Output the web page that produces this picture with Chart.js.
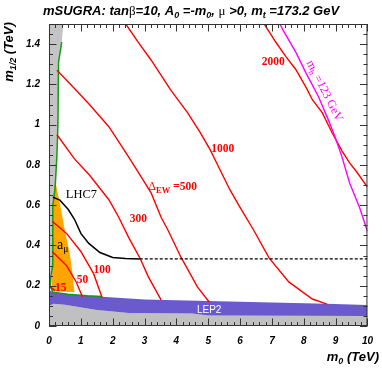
<!DOCTYPE html>
<html><head><meta charset="utf-8">
<script src="https://cdn.jsdelivr.net/npm/chart.js@4/dist/chart.umd.min.js"></script>
<style>html,body{margin:0;padding:0;background:#fff;overflow:hidden}canvas{display:block}</style>
</head><body>
<canvas id="c" width="382" height="368"></canvas>
<script>
// ---- data (m0 in TeV, m1/2 in TeV) ----
const xTickValues = [0,1,2,3,4,5,6,7,8,9,10];
const yTickValues = [0,0.2,0.4,0.6,0.8,1,1.2,1.4];
const yTickLabels = ['0','0.2','0.4','0.6','0.8','1','1.2','1.4'];

const ew15   = [[0.03,0.194],[0.19,0.176]];
const ew50   = [[0.1,0.37],[0.55,0.30],[0.85,0.22],[1.05,0.145]];
const ew100  = [[0.1,0.52],[0.55,0.46],[1.0,0.37],[1.4,0.26],[1.67,0.14]];
const ew300  = [[0.25,0.95],[0.8,0.83],[1.27,0.75],[1.88,0.627],[2.19,0.54],[2.5,0.44],[2.87,0.333],[3.12,0.244],[3.52,0.13]];
const ew500  = [[0.25,1.27],[0.8,1.18],[1.27,1.1],[1.88,0.99],[2.5,0.84],[2.9,0.74],[3.21,0.66],[3.52,0.54],[3.73,0.478],[4.14,0.343],[4.66,0.194],[5.03,0.119]];
const ew1000 = [[2.41,1.5],[2.8,1.41],[3.21,1.32],[3.83,1.17],[4.35,1.06],[4.75,0.96],[5.06,0.876],[5.37,0.776],[5.68,0.677],[5.99,0.592],[6.42,0.478],[6.91,0.338],[7.53,0.219],[8.27,0.134],[8.73,0.109]];
const ew2000 = [[6.76,1.5],[7.13,1.408],[7.44,1.338],[7.75,1.274],[8.06,1.189],[8.27,1.124],[8.58,1.06],[8.89,0.96],[9.2,0.87],[9.44,0.81],[9.66,0.766],[10,0.69]];
const mh123  = [[7.25,1.5],[7.35,1.47],[7.75,1.36],[8.06,1.26],[8.46,1.14],[8.77,1.025],[8.98,0.94],[9.2,0.84],[9.44,0.71],[9.75,0.59],[10,0.47]];
const lhc7   = [[0.12,0.64],[0.34,0.625],[0.6,0.58],[0.8,0.53],[1.0,0.46],[1.25,0.41],[1.6,0.365],[2.0,0.34],[2.4,0.335],[2.85,0.333]];
const lhc7Ext = [[2.85,0.333],[10,0.333]];
const amuRegion = [[0.12,0.62],[0.17,0.70],[0.21,0.71],[0.26,0.67],[0.34,0.61],[0.49,0.48],[0.65,0.36],[0.74,0.26],[0.80,0.168],[0.08,0.172],[0.1,0.3]];
const excludedLeft = [[0,0.17],[0.05,0.19],[0.08,0.25],[0.12,0.3],[0.12,0.6],[0.19,0.68],[0.25,0.85],[0.28,1.0],[0.3,1.31],[0.4,1.41],[0.45,1.5],[0,1.5]];
const greenEdge = [[0.4,1.41],[0.3,1.31],[0.28,1.0],[0.25,0.85],[0.19,0.68],[0.12,0.6],[0.12,0.3],[0.06,0.25],[0.04,0.2],[0.12,0.168],[0.6,0.158],[1.2,0.15],[1.67,0.146]];
const lep2Top    = [[0,0.18],[0.12,0.168],[0.6,0.158],[1.67,0.145],[3.0,0.132],[5.0,0.124],[7.0,0.117],[8.7,0.11],[10,0.104]];
const lep2Bottom = [[0,0.10],[0.15,0.11],[0.5,0.105],[1.5,0.08],[2.5,0.065],[4.5,0.062],[5.0,0.052],[10,0.05]];

const pts = a => a.map(p => ({x:p[0], y:p[1]}));
const lep2Poly = lep2Top.concat(lep2Bottom.slice().reverse());

function lineDS(data, color, width, order, dash) {
  return {data: pts(data), showLine:true, borderColor:color, borderWidth:width, pointRadius:0,
          fill:false, tension:0, order:order, borderDash: dash || []};
}
function fillDS(data, color, order, mode) {
  return {data: pts(data), showLine:true, borderWidth:0, borderColor:'rgba(0,0,0,0)', backgroundColor:color,
          pointRadius:0, fill: mode || 'shape', tension:0, order:order};
}

const RED = '#ff0000';
const datasets = [
  fillDS(lep2Bottom, '#c0c0c0', 20, 'origin'),
  fillDS(excludedLeft, '#c4c4c4', 20),
  fillDS(lep2Poly, '#6a5acd', 19),
  fillDS(amuRegion, '#ffa500', 18),
  lineDS(greenEdge, '#129a12', 1.5, 10),
  lineDS(ew15, RED, 1.4, 5),
  lineDS(ew50, RED, 1.4, 5),
  lineDS(ew100, RED, 1.4, 5),
  lineDS(ew300, RED, 1.4, 5),
  lineDS(ew500, RED, 1.4, 5),
  lineDS(ew1000, RED, 1.4, 5),
  lineDS(ew2000, RED, 1.4, 5),
  lineDS(mh123, '#ff00ff', 1.4, 4),
  lineDS(lhc7, '#000000', 1.5, 3),
  lineDS(lhc7Ext, '#000000', 1.3, 3, [3,2])
];

function drawRich(ctx, parts, x, y, align) {
  let w = 0;
  parts.forEach(p => { ctx.font = p.f; p.w = ctx.measureText(p.t).width; w += p.w; });
  let cx = align === 'center' ? x - w/2 : (align === 'right' ? x - w : x);
  ctx.textAlign = 'left';
  parts.forEach(p => { ctx.font = p.f; ctx.fillText(p.t, cx, y + (p.dy || 0)); cx += p.w; });
}

const SANSBI = s => 'italic bold ' + s + 'px "Liberation Sans", Arial, sans-serif';
const SERIF  = s => s + 'px "Liberation Serif", "Times New Roman", serif';
const SERIFB = s => 'bold ' + s + 'px "Liberation Serif", "Times New Roman", serif';

const decor = {
  id: 'decor',
  afterDatasetsDraw(chart) {
    const ctx = chart.ctx, xs = chart.scales.x, ys = chart.scales.y, a = chart.chartArea;
    const X = v => xs.getPixelForValue(v), Y = v => ys.getPixelForValue(v);
    ctx.save();
    ctx.textBaseline = 'alphabetic';
    // contour labels
    ctx.fillStyle = RED;
    const redLabels = [['2000',7.04,1.294],['1000',5.46,0.866],['300',2.81,0.517],['100',1.67,0.264],['50',1.05,0.214],['15',0.37,0.174]];
    redLabels.forEach(l => drawRich(ctx, [{t:l[0], f:SERIFB(11.5)}], X(l[1]), Y(l[2]), 'center'));
    drawRich(ctx, [{t:'\u0394', f:SERIF(12)}, {t:'EW', f:SERIFB(8.5), dy:3}, {t:' =500', f:SERIFB(11.5)}], X(3.12), Y(0.677), 'left');
    // black labels
    ctx.fillStyle = '#000';
    drawRich(ctx, [{t:'LHC7', f:SERIF(12.5)}], X(1.02), Y(0.637), 'center');
    drawRich(ctx, [{t:'a', f:SERIF(14)}, {t:'\u03bc', f:SERIF(9.5), dy:3}], X(0.25), Y(0.383), 'left');
    // LEP2
    ctx.fillStyle = '#ffffff';
    drawRich(ctx, [{t:'LEP2', f:'10px "Liberation Sans", Arial, sans-serif'}], X(5.03), Y(0.065), 'center');
    // magenta rotated label
    ctx.save();
    ctx.translate(X(8.67), Y(1.169));
    ctx.rotate(63 * Math.PI / 180);
    ctx.fillStyle = '#ff00ff';
    drawRich(ctx, [{t:'m', f:SERIF(12)}, {t:'h', f:SERIF(8.5), dy:2.5}, {t:' =123 GeV', f:SERIF(12)}], 0, 4, 'center');
    ctx.restore();

    // frame and inward ticks on all four sides
    ctx.strokeStyle = '#333';
    ctx.lineWidth = 1;
    ctx.beginPath();
    for (let i = 0; i <= 50; i++) {
      const v = i * 0.2, px = Math.round(X(v)) + 0.5, L = (i % 5 === 0) ? 7.5 : 4;
      ctx.moveTo(px, a.bottom); ctx.lineTo(px, a.bottom - L);
      ctx.moveTo(px, a.top); ctx.lineTo(px, a.top + L);
    }
    for (let i = 0; i <= 30; i++) {
      const v = i * 0.05, py = Math.round(Y(v)) + 0.5, L = (i % 4 === 0) ? 7.5 : 4;
      ctx.moveTo(a.left, py); ctx.lineTo(a.left + L, py);
      ctx.moveTo(a.right, py); ctx.lineTo(a.right - L, py);
    }
    ctx.stroke();
    ctx.strokeRect(a.left + 0.5, a.top + 0.5, a.right - a.left - 1, a.bottom - a.top - 1);

    // title
    ctx.fillStyle = '#000';
    drawRich(ctx, [
      {t:'mSUGRA: tan', f:SANSBI(13)}, {t:'\u03b2', f:SERIF(13)}, {t:'=10, A', f:SANSBI(13)},
      {t:'0', f:SANSBI(9), dy:3}, {t:' =-m', f:SANSBI(13)}, {t:'0', f:SANSBI(9), dy:3},
      {t:', ', f:SANSBI(13)}, {t:'\u03bc', f:SERIF(13)}, {t:' >0, m', f:SANSBI(13)},
      {t:'t', f:SANSBI(9), dy:3}, {t:' =173.2 GeV', f:SANSBI(13)}
    ], 43, 15, 'left');
    // x axis title
    drawRich(ctx, [{t:'m', f:SANSBI(13)}, {t:'0', f:SANSBI(9), dy:3}, {t:' (TeV)', f:SANSBI(13)}], 379, 361, 'right');
    // y axis title
    ctx.save();
    ctx.translate(13, 52);
    ctx.rotate(-Math.PI / 2);
    drawRich(ctx, [{t:'m', f:SANSBI(13)}, {t:'1/2', f:SANSBI(9), dy:3}, {t:' (TeV)', f:SANSBI(13)}], 0, 0, 'center');
    ctx.restore();
    ctx.restore();
  }
};

const fmt = v => String(+(+v).toFixed(2));

new Chart(document.getElementById('c'), {
  type: 'scatter',
  data: { datasets },
  options: {
    responsive: false, animation: false, devicePixelRatio: 1,
    layout: { padding: { top: 24, right: 9, left: 0, bottom: 0 } },
    plugins: { legend: { display: false }, tooltip: { enabled: false }, title: { display: false } },
    scales: {
      x: {
        type: 'linear', min: 0, max: 10,
        afterBuildTicks: s => { s.ticks = xTickValues.map(v => ({value: v})); },
        afterFit: s => { s.height = 42; },
        ticks: { callback: v => fmt(v), color: '#000', padding: 9, maxRotation: 0, autoSkip: false,
                 font: { family: '"Liberation Sans", Arial, sans-serif', size: 10, style: 'italic', weight: 'bold' } },
        grid: { display: false, drawTicks: false }, border: { display: false }
      },
      y: {
        type: 'linear', min: 0, max: 1.5,
        afterBuildTicks: s => { s.ticks = yTickValues.map(v => ({value: v})); },
        afterFit: s => { s.width = 49; },
        ticks: { callback: (v, i) => yTickLabels[i], color: '#000', padding: 9, autoSkip: false,
                 font: { family: '"Liberation Sans", Arial, sans-serif', size: 10, style: 'italic', weight: 'bold' } },
        grid: { display: false, drawTicks: false }, border: { display: false }
      }
    }
  },
  plugins: [decor]
});
</script>
</body></html>
